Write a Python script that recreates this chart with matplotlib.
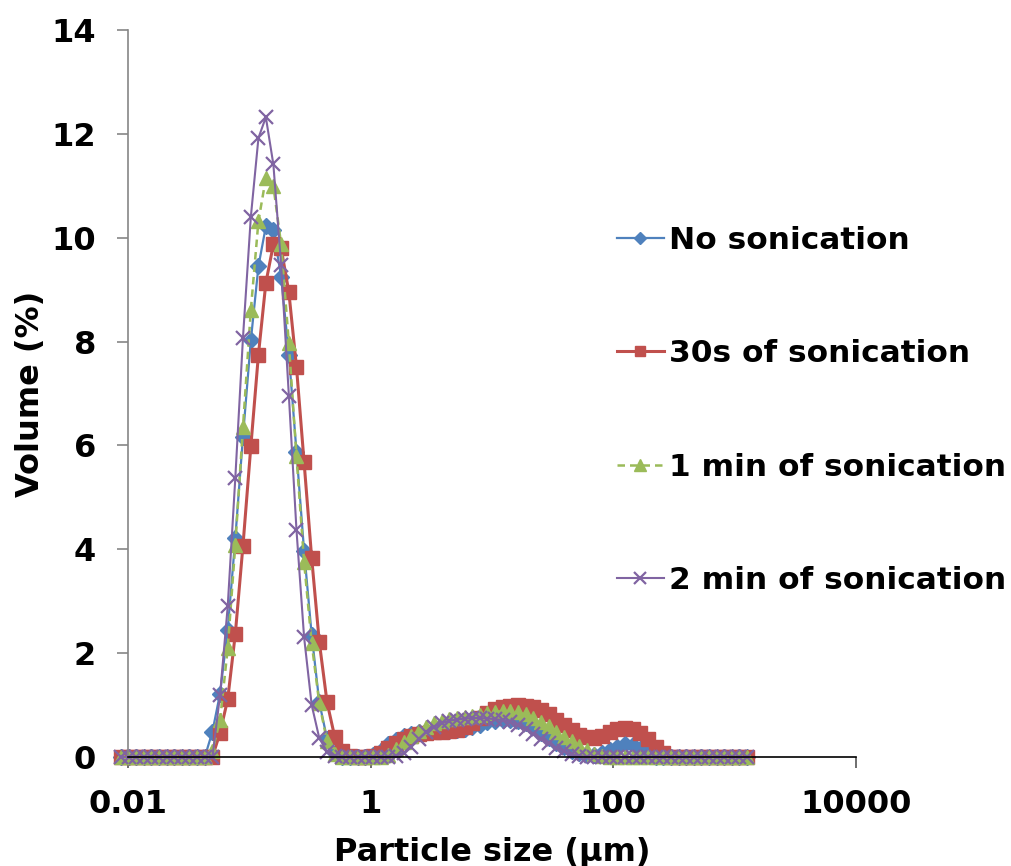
import matplotlib
matplotlib.use('Agg')
import matplotlib.pyplot as plt
from matplotlib.ticker import FixedLocator, FixedFormatter

# size classes (µm)
size_um = [0.00871, 0.0101, 0.0116, 0.0135, 0.0156, 0.0180, 0.0208, 0.0240, 0.0278, 0.0321,
           0.0372, 0.0430, 0.0497, 0.0574, 0.0664, 0.0767, 0.0887, 0.103, 0.119, 0.137,
           0.158, 0.183, 0.212, 0.245, 0.283, 0.327, 0.378, 0.438, 0.506, 0.585,
           0.676, 0.782, 0.904, 1.04, 1.21, 1.40, 1.61, 1.87, 2.16, 2.49,
           2.88, 3.33, 3.85, 4.46, 5.15, 5.96, 6.89, 7.96, 9.20, 10.6,
           12.3, 14.2, 16.4, 19.0, 22.0, 25.4, 29.4, 34.0, 39.3, 45.4,
           52.5, 60.7, 70.1, 81.1, 93.8, 108, 125, 145, 167, 194,
           224, 259, 299, 346, 400, 462, 535, 618, 714, 826,
           955, 1100, 1280]

no_sonic = [0, 0, 0, 0, 0, 0, 0, 0, 0, 0, 0, 0,
            0.49, 1.22, 2.45, 4.21, 6.17, 8.02, 9.45, 10.22, 10.15, 9.25,
            7.75, 5.88, 3.97, 2.35, 1.05, 0.35, 0.08, 0, 0, 0,
            0, 0.03, 0.12, 0.25, 0.33, 0.40, 0.45, 0.48, 0.50, 0.50,
            0.50, 0.50, 0.51, 0.53, 0.57, 0.62, 0.67, 0.70, 0.72, 0.72,
            0.70, 0.65, 0.57, 0.47, 0.37, 0.27, 0.19, 0.12, 0.07, 0.04,
            0.04, 0.07, 0.13, 0.20, 0.25, 0.24, 0.16, 0.06,
            0, 0, 0, 0, 0, 0, 0, 0, 0, 0, 0, 0, 0]

sonic_30s = [0, 0, 0, 0, 0, 0, 0, 0, 0, 0, 0, 0, 0,
             0.47, 1.11, 2.37, 4.07, 5.98, 7.75, 9.13, 9.87, 9.80, 8.95,
             7.51, 5.68, 3.83, 2.21, 1.05, 0.39, 0.12, 0.02, 0, 0,
             0.02, 0.08, 0.18, 0.27, 0.35, 0.40, 0.44, 0.46, 0.48, 0.49,
             0.50, 0.52, 0.57, 0.65, 0.75, 0.84, 0.92, 0.97, 0.99, 1.00,
             0.99, 0.96, 0.90, 0.82, 0.72, 0.61, 0.51, 0.43, 0.38, 0.37,
             0.41, 0.48, 0.54, 0.56, 0.54, 0.47, 0.35, 0.20, 0.07,
             0, 0, 0, 0, 0, 0, 0, 0, 0, 0, 0]

sonic_1min = [0, 0, 0, 0, 0, 0, 0, 0, 0, 0, 0, 0,
              0.12, 0.71, 2.09, 4.08, 6.35, 8.61, 10.32, 11.15, 11.00, 9.87,
              7.97, 5.79, 3.76, 2.19, 1.03, 0.30, 0.05, 0, 0, 0,
              0, 0, 0, 0.03, 0.15, 0.28, 0.40, 0.50, 0.58, 0.65,
              0.70, 0.73, 0.75, 0.77, 0.79, 0.81, 0.84, 0.87, 0.88, 0.88,
              0.86, 0.82, 0.76, 0.68, 0.59, 0.49, 0.39, 0.30, 0.21, 0.13,
              0.06, 0.02,
              0, 0, 0, 0, 0, 0, 0, 0, 0, 0, 0, 0, 0, 0, 0, 0, 0, 0, 0]

sonic_2min = [0, 0, 0, 0, 0, 0, 0, 0, 0, 0, 0, 0, 0,
              1.19, 2.90, 5.37, 8.07, 10.40, 11.92, 12.32, 11.41, 9.48, 6.96,
              4.37, 2.31, 1.00, 0.36, 0.10, 0.02, 0, 0, 0, 0,
              0, 0, 0, 0.02, 0.08, 0.20, 0.35, 0.48, 0.58, 0.65,
              0.70, 0.72, 0.74, 0.75, 0.75, 0.74, 0.73, 0.71, 0.67, 0.61,
              0.53, 0.44, 0.35, 0.26, 0.18, 0.11, 0.06, 0.02,
              0, 0, 0, 0, 0, 0, 0, 0, 0, 0, 0, 0, 0, 0, 0, 0, 0, 0, 0, 0, 0, 0]

labels = ['No sonication', '30s of sonication', '1 min of sonication', '2 min of sonication']
x_ticks = [0.01, 1, 100, 10000]
x_ticklabels = ['0.01', '1', '100', '10000']

plt.rcParams['font.family'] = ['DejaVu Sans']
plt.rcParams['font.weight'] = 'bold'

fig = plt.figure(figsize=(10.11, 8.66), dpi=100)
ax = fig.add_axes([0.1266, 0.1259, 0.7198, 0.8395])

ax.plot(size_um, no_sonic, color='#4F81BD', lw=1.6, marker='D', ms=8,
        mec='#4F81BD', label=labels[0], clip_on=False)
ax.plot(size_um, sonic_30s, color='#C0504D', lw=2.2, marker='s', ms=9.5,
        mec='#C0504D', label=labels[1], clip_on=False)
ax.plot(size_um, sonic_1min, color='#9BBB59', lw=1.8, ls=(0, (3, 2)), marker='^', ms=10,
        mec='#9BBB59', label=labels[2], clip_on=False)
ax.plot(size_um, sonic_2min, color='#8064A2', lw=1.5, marker='x', ms=10, mew=1.6,
        label=labels[3], clip_on=False)

ax.set_xscale('log')
ax.set_xlim(0.01, 10000)
ax.set_ylim(0, 14)
ax.xaxis.set_major_locator(FixedLocator(x_ticks))
ax.xaxis.set_major_formatter(FixedFormatter(x_ticklabels))
ax.xaxis.set_minor_locator(FixedLocator([]))
ax.set_yticks(range(0, 15, 2))

for s in ['top', 'right']:
    ax.spines[s].set_visible(False)
ax.spines['left'].set_color('#868686')
ax.spines['left'].set_linewidth(1.2)
ax.spines['bottom'].set_color('black')
ax.spines['bottom'].set_linewidth(1.2)
ax.tick_params(axis='y', direction='out', length=8, width=1.2, color='#868686',
               labelsize=23, pad=15)
ax.tick_params(axis='x', direction='out', length=8, width=1.2, color='#555555',
               labelsize=23, pad=15)

ax.set_xlabel('Particle size (µm)', fontsize=23, fontweight='bold', labelpad=12)
ax.set_ylabel('Volume (%)', fontsize=23, fontweight='bold', labelpad=4)

leg = ax.legend(loc='upper left', bbox_to_anchor=(0.6103, 0.739),
                bbox_transform=fig.transFigure, frameon=False, fontsize=22.5,
                handlelength=1.5, handletextpad=0.15, labelspacing=2.7,
                borderpad=0, borderaxespad=0, numpoints=1, markerscale=0.8)
for t in leg.get_texts():
    t.set_fontweight('bold')

plt.savefig('out.png', dpi=100)
